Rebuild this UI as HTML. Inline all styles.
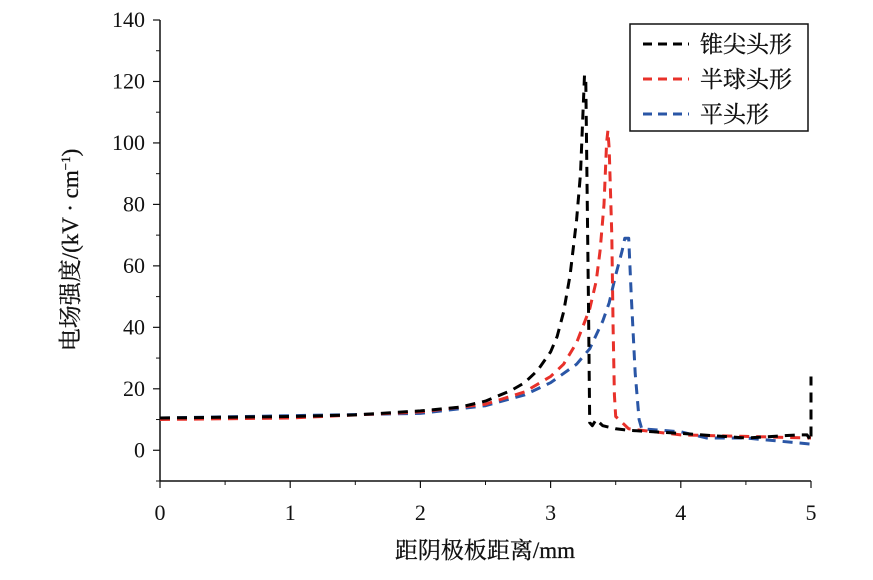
<!DOCTYPE html>
<html><head><meta charset="utf-8"><style>
body{margin:0;background:#fff}
svg text{font-family:"Liberation Serif","Noto Serif CJK SC",serif;fill:#111}
</style></head><body>
<svg id="chart" width="873" height="575" viewBox="0 0 873 575" xmlns="http://www.w3.org/2000/svg">
<g id="axes"></g>
<g id="series"></g>
<text transform="translate(78,250) rotate(-90)" text-anchor="middle" font-size="23" stroke="#111" stroke-width="0.3">电场强度/(kV · cm<tspan font-size="13" dy="-8">−1</tspan><tspan dy="8">)</tspan></text>
<text x="485" y="558" text-anchor="middle" font-size="23" stroke="#111" stroke-width="0.3">距阴极板距离/mm</text>
<g>
<rect x="630" y="24" width="178" height="107" fill="#fff" stroke="#111" stroke-width="1.5"/>
<line x1="643" y1="44" x2="689" y2="44" stroke="#000" stroke-width="3" stroke-dasharray="9,6"/>
<text x="700" y="52" font-size="23" stroke="#111" stroke-width="0.3">锥尖头形</text>
<line x1="643" y1="79" x2="689" y2="79" stroke="#e8312a" stroke-width="3" stroke-dasharray="9,6"/>
<text x="700" y="87" font-size="23" stroke="#111" stroke-width="0.3">半球头形</text>
<line x1="643" y1="114" x2="689" y2="114" stroke="#2a56a6" stroke-width="3" stroke-dasharray="9,6"/>
<text x="700" y="122" font-size="23" stroke="#111" stroke-width="0.3">平头形</text>
</g>
</svg>
<script>
const xTicks=[0,1,2,3,4,5];
const yTicks=[0,20,40,60,80,100,120,140];
const coneX=[0,1,1.5,2,2.3,2.5,2.7,2.8,2.9,3.0,3.05,3.1,3.15,3.2,3.23,3.26,3.27,3.28,3.29,3.3,3.32,3.35,3.4,3.5,3.6,4,4.5,4.9,4.97,5.0,5.0];
const coneY=[10.5,11,11.5,12.8,14,16,19.5,22,26,32,37,45,57,75,90,122,120,85,50,9,8,10,8,7,6.5,5.5,4,5,5,3,24];
const hemiX=[0,1,2,2.5,2.8,3.0,3.1,3.2,3.3,3.35,3.38,3.41,3.43,3.44,3.45,3.47,3.48,3.49,3.5,3.55,3.6,4,4.5,5];
const hemiY=[10,10.5,12.5,15,19,24,28,35,46,55,65,80,100,104,98,70,40,18,11,9,7,5,4.5,4];
const flatX=[0,2,2.5,2.8,3.0,3.2,3.3,3.4,3.45,3.5,3.55,3.57,3.6,3.62,3.65,3.68,3.7,4,4.2,4.5,5];
const flatY=[10.5,12,14.5,18,22,28,33,42,48,57,65,69,69,50,25,10,7,6,4,4,2];
const X0=160,X1=811,Y0=481,Y1=20,xMin=0,xMax=5,yMin=-10,yMax=140;
const sx=v=>X0+(v-xMin)/(xMax-xMin)*(X1-X0);
const sy=v=>Y0-(v-yMin)/(yMax-yMin)*(Y0-Y1);
const NS="http://www.w3.org/2000/svg";
const ax=document.getElementById('axes');
function mk(tag,attrs,parent){const e=document.createElementNS(NS,tag);for(const k in attrs)e.setAttribute(k,attrs[k]);parent.appendChild(e);return e;}
let l=mk('line',{x1:X0,y1:Y0,x2:X1,y2:Y0,stroke:'#111','stroke-width':1.5},ax);


l=mk('line',{x1:X0,y1:Y0,x2:X0,y2:Y1,stroke:'#111','stroke-width':1.5},ax);


xTicks.forEach((v,i)=>{
 const t=mk('line',{x1:sx(v),y1:Y0,x2:sx(v),y2:Y0+7,stroke:'#111','stroke-width':1.2},ax);
 
 
 if(i<xTicks.length-1){const m=mk('line',{x1:sx(v+0.5),y1:Y0,x2:sx(v+0.5),y2:Y0+4,stroke:'#111','stroke-width':1},ax);
 
 }
 const tx=mk('text',{x:sx(v),y:Y0+39,'text-anchor':'middle','font-size':22},ax);tx.textContent=v;
 
 
});
yTicks.forEach(v=>{
 const t=mk('line',{x1:X0,y1:sy(v),x2:X0-7,y2:sy(v),stroke:'#111','stroke-width':1.2},ax);
 
 
 const m=mk('line',{x1:X0,y1:sy(v-10),x2:X0-4,y2:sy(v-10),stroke:'#111','stroke-width':1},ax);
 
 
 const tx=mk('text',{x:X0-15,y:sy(v)+7,'text-anchor':'end','font-size':22},ax);tx.textContent=v;
 
 
});
const sg=document.getElementById('series');
function draw(xs,ys,color,name){
 const d=xs.map((x,i)=>(i?'L':'M')+sx(x).toFixed(1)+','+sy(ys[i]).toFixed(1)).join(' ');
 const p=mk('path',{d:d,fill:'none',stroke:color,'stroke-width':3,'stroke-dasharray':'10,7','stroke-linejoin':'round'},sg);
 
 
}
draw(flatX,flatY,'#2a56a6','series-flat-head');
draw(hemiX,hemiY,'#e8312a','series-hemisphere-head');
draw(coneX,coneY,'#000','series-cone-tip');
</script>
</body></html>
